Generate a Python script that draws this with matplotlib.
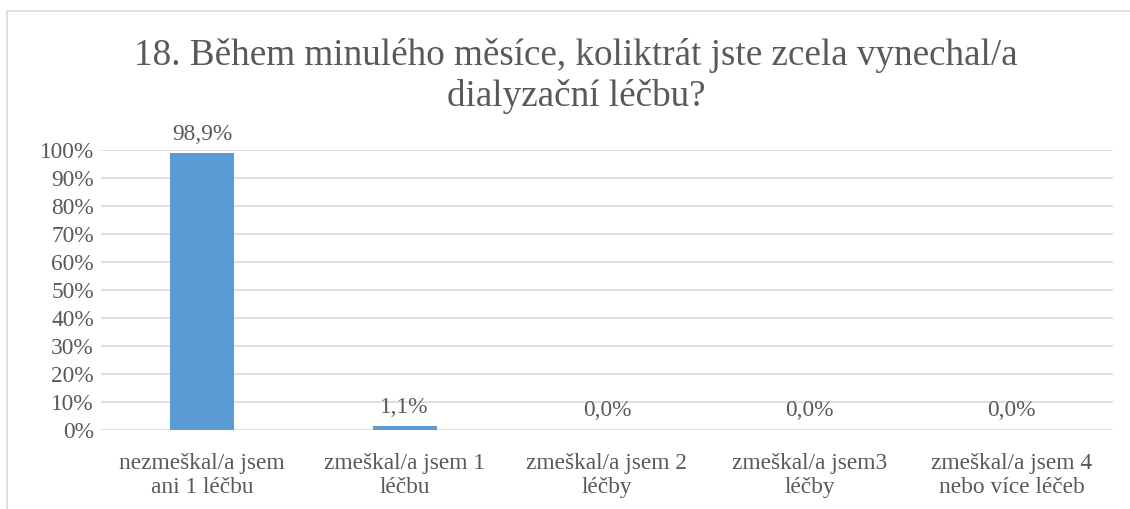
import matplotlib.pyplot as plt
from matplotlib.patches import Rectangle
from matplotlib.ticker import PercentFormatter

plt.rcParams['font.family'] = 'serif'
plt.rcParams['font.serif'] = ['Liberation Serif', 'Times New Roman', 'DejaVu Serif']

# data
categories = ['nezmeškal/a jsem\nani 1 léčbu', 'zmeškal/a jsem 1\nléčbu',
              'zmeškal/a jsem 2\nléčby', 'zmeškal/a jsem3\nléčby',
              'zmeškal/a jsem 4\nnebo více léčeb']
values = [98.9, 1.1, 0.0, 0.0, 0.0]
labels = ['98,9%', '1,1%', '0,0%', '0,0%', '0,0%']
title = '18. Během minulého měsíce, koliktrát jste zcela vynechal/a\ndialyzační léčbu?'

text_col = '#595959'
grid_col = '#D9D9D9'
bar_col = '#5B9BD5'
fs = 16.8

W, H = 1130, 509
fig = plt.figure(figsize=(W / 100, H / 100), dpi=100)

# chart border
fig.patches.append(Rectangle((7 / W, -0.1), 1.2, 1 - 11 / H + 0.1, transform=fig.transFigure,
                             fill=False, edgecolor=grid_col, linewidth=1.2))

ax = fig.add_axes([101 / W, (H - 429.5) / H, 1012 / W, 279.5 / H])
x = range(len(categories))
ax.bar(x, values, width=0.316, color=bar_col, zorder=3)
ax.set_xlim(-0.5, len(categories) - 0.5)
ax.set_ylim(0, 100)
ax.set_yticks(range(0, 101, 10))
ax.yaxis.set_major_formatter(PercentFormatter(decimals=0))
ax.set_xticks(list(x))
ax.set_xticklabels(categories, fontsize=fs, color=text_col, linespacing=1.15)
ax.tick_params(axis='x', length=0, pad=17)
ax.tick_params(axis='y', length=0, pad=5, labelsize=fs, labelcolor=text_col)
ax.grid(axis='y', color=grid_col, linewidth=1.2, zorder=0)
for s in ax.spines.values():
    s.set_visible(False)

for xi, v, lab in zip(x, values, labels):
    ax.annotate(lab, (xi, v), xytext=(0, 6), textcoords='offset points',
                ha='center', va='bottom', fontsize=fs, color=text_col)

fig.text(576 / W, 1 - 76 / H, title, ha='center', va='center', fontsize=26.7,
         color=text_col, linespacing=1.25)

fig.savefig('out.png', dpi=100)
